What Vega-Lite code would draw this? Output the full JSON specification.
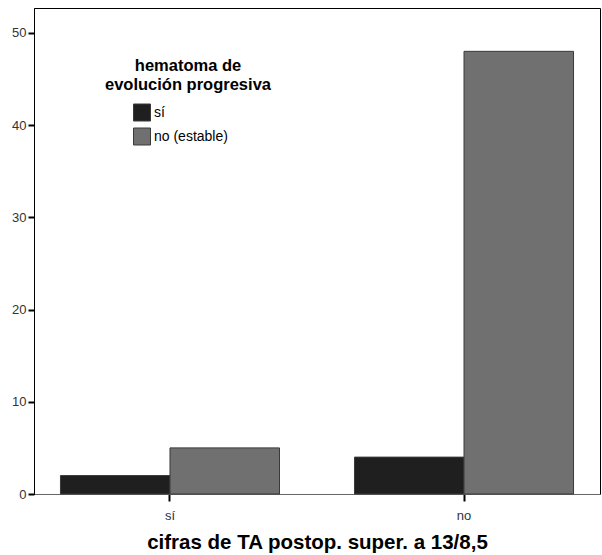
{
  "$schema": "https://vega.github.io/schema/vega-lite/v6.json",
  "width": 566,
  "height": 486,
  "autosize": {"type": "none"},
  "padding": {"left": 34, "top": 8, "right": 2, "bottom": 61},
  "background": "white",
  "config": {
    "view": {"stroke": "#000", "strokeWidth": 1},
    "font": "Liberation Sans"
  },
  "data": {
    "values": [
      {"cifras": "sí", "hematoma": "sí", "count": 2},
      {"cifras": "sí", "hematoma": "no (estable)", "count": 5},
      {"cifras": "no", "hematoma": "sí", "count": 4},
      {"cifras": "no", "hematoma": "no (estable)", "count": 48}
    ]
  },
  "mark": {"type": "bar", "stroke": "#3a3a3a", "strokeWidth": 1},
  "encoding": {
    "x": {
      "field": "cifras",
      "type": "nominal",
      "sort": ["sí", "no"],
      "scale": {"paddingInner": 0.255, "paddingOuter": 0.09},
      "axis": {
        "title": "cifras de TA postop. super. a 13/8,5",
        "titleFontSize": 20.5,
        "titleFontWeight": "bold",
        "titleColor": "#000",
        "titlePadding": 10,
        "labelAngle": 0,
        "labelFontSize": 13,
        "labelColor": "#333",
        "labelPadding": 8,
        "tickColor": "#000",
        "tickWidth": 2,
        "tickSize": 7,
        "domainColor": "#666",
        "grid": false
      }
    },
    "xOffset": {"field": "hematoma", "type": "nominal", "sort": ["sí", "no (estable)"]},
    "y": {
      "field": "count",
      "type": "quantitative",
      "scale": {"domain": [0, 52.7], "nice": false},
      "axis": {
        "title": null,
        "values": [0, 10, 20, 30, 40, 50],
        "grid": false,
        "labelFontSize": 13,
        "labelColor": "#333",
        "tickColor": "#000",
        "tickWidth": 2,
        "tickSize": 6,
        "labelPadding": 2,
        "domainColor": "#000"
      }
    },
    "color": {
      "field": "hematoma",
      "type": "nominal",
      "sort": ["sí", "no (estable)"],
      "scale": {"domain": ["sí", "no (estable)"], "range": ["#1f1f1f", "#707070"]},
      "legend": {
        "title": ["hematoma de", "evolución progresiva"],
        "orient": "none",
        "legendX": 71,
        "legendY": 50,
        "titleFontSize": 16.5,
        "titleFontWeight": "bold",
        "titleColor": "#000",
        "titleAlign": "center",
        "titleAnchor": "middle",
        "titleLineHeight": 19,
        "titlePadding": 10,
        "symbolType": "square",
        "symbolSize": 289,
        "symbolStrokeColor": "#3a3a3a",
        "symbolStrokeWidth": 1,
        "symbolOffset": -15,
        "labelFontSize": 14,
        "labelColor": "#000",
        "labelOffset": 3,
        "rowPadding": 2
      }
    }
  }
}
